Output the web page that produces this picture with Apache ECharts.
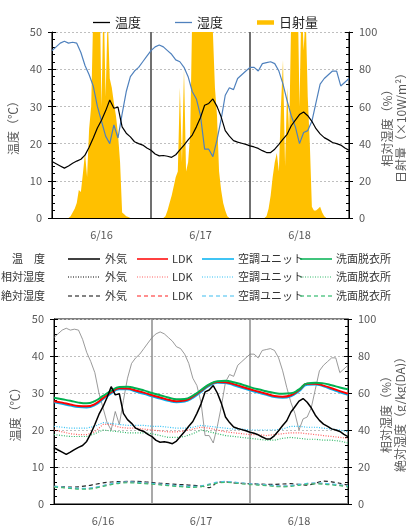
<!DOCTYPE html>
<html><head><meta charset="utf-8">
<script src="https://cdn.jsdelivr.net/npm/echarts@6/dist/echarts.min.js"></script>
<style>html,body{margin:0;padding:0;background:#fff}#c{width:406px;height:526px}</style>
</head><body><div id="c"></div>
<script>
// ---- categories ----
const days = ['6/16', '6/17', '6/18'];
const tempTicks = [0, 10, 20, 30, 40, 50];
const pctTicks = [0, 20, 40, 60, 80, 100];

// ---- outdoor, hourly (h0..h72) ----
const tempOut = [15.2,14.6,14.0,13.4,14.0,14.7,15.3,15.8,16.9,19.0,21.5,24.2,26.3,28.8,31.7,29.5,29.8,24.5,22.8,21.8,20.5,20.0,19.6,18.8,
  18.2,17.2,16.7,16.8,16.6,16.3,17.0,18.3,19.6,21.0,22.3,24.5,27.0,30.3,30.8,32.0,30.0,27.2,23.5,22.0,20.8,20.4,20.1,19.8,
  19.4,19.1,18.7,18.1,17.6,17.6,18.5,19.8,21.2,22.5,24.8,26.3,27.8,28.5,27.5,26.0,24.0,22.6,21.6,21.0,20.3,20.0,19.6,18.8,18.2];
const rhOut = [90,92,94,95,94,94.5,94,89,82,77,71,60,52,44,40,50,43,56,68,76,79,81,84,87,
  90,92,93,92,90,88,85,84,81,76,68,64,55,37,37,33,42,53,66,70,69,75,77,79,
  81,81,79,83,83.5,84,83,79,72,63,55,49,40,46,47,52,62,72,75,77,79,79,71,73,75];
// ---- solar radiation, half-hourly (h0..h72), x10 W/m2 ----
const solar = [0,0,0,0,0,0,0,0,0,
  1,3,5,8,15,14,24,35,22,48,60,110,120,130,130,60,120,65,110,75,70,62,55,45,30,3,2,1,0.5,
  0,0,0,0,0,0,0,0,0,0,
  0,0,0,0,0,0,0,
  1,4,8,12,17,22,25,70,30,80,25,30,45,110,130,140,150,150,150,140,130,120,110,100,70,55,25,15,8,4,1,
  0,0,0,0,0,0,0,0,0,0,
  0,0,0,0,0,0,0,0,
  1,5,12,22,30,35,25,60,85,28,70,45,110,130,140,130,60,120,90,110,65,40,6,4,4,5,6,3,1,0,
  0,0,0,0,0,0,0,0,0,0,0];

// ---- rooms, every 2 hours (h0..h72) ----
const tempLDK  = [27.8,27.4,26.9,26.5,26.4,27.0,28.6,30.2,31.3,31.2,30.7,30.1,29.4,28.8,28.2,27.8,28.0,29.0,30.6,32.2,33.0,32.9,32.4,31.7,31.0,30.4,29.8,29.2,29.0,29.4,30.8,32.5,32.5,32.0,31.3,30.5,29.8];
const tempAC   = [27.5,27.1,26.6,26.2,26.1,26.7,28.3,29.9,31.0,31.0,30.4,29.8,29.1,28.5,27.9,27.5,27.7,28.7,30.3,31.9,32.8,32.7,32.1,31.4,30.7,30.1,29.5,28.9,28.7,29.1,30.5,32.2,32.3,31.8,31.0,30.2,29.5];
const tempWash = [28.7,28.3,27.9,27.4,27.2,27.8,29.2,30.6,31.6,31.7,31.3,30.7,30.0,29.4,28.8,28.3,28.4,29.3,30.8,32.3,33.2,33.3,32.9,32.3,31.6,31.0,30.5,30.0,29.8,29.9,31.0,32.6,32.8,32.6,32.1,31.5,31.0];
const rhLDK  = [40,39,38,37.5,37.5,39,43,43,41.5,41,41,40.5,40,39.5,39,39,39.5,40.5,41.5,41,40,39,38.5,38,37.5,37.5,37,37.5,38,38.5,38.5,38,37.5,37,36.5,36,35.5];
const rhAC   = [42,41.5,41,41,41,42,44,43.5,43,42.5,42.5,42.5,42,42,41.5,41,41,41.5,42.5,42,41.5,41,40.5,40.5,40,40,40,40,40.5,42,42,41.5,41.5,41,40.5,40,39];
const rhWash = [37.5,37,36.5,36.5,36.5,38,40,39.5,39,38.5,38.5,38.5,38,37,36,36,36.5,38,40,39,38,37,36.5,36,35.5,35,34.5,34.5,35.5,36,35.5,35,35,34.5,34.5,34,33];
const ahOut  = [9.6,9.3,9.1,9.3,9.8,10.6,11.4,11.9,12.1,12.2,12.2,12.0,11.6,11.2,10.9,10.6,10.4,10.1,9.8,8.8,11.6,12.0,11.4,11.2,11.0,10.8,10.6,10.6,10.8,11.0,10.6,10.2,11.2,12.4,12.0,11.2,10.2];
const ahLDK  = [9.4,9.0,8.6,8.3,8.3,8.8,9.8,10.8,11.5,11.8,11.6,11.3,11.0,10.6,10.2,9.8,9.5,9.3,9.6,10.6,11.6,12.0,11.7,11.2,10.8,10.5,10.2,9.8,9.6,9.8,10.4,11.0,11.2,11.0,10.6,10.2,9.6];
const ahAC   = [9.6,9.2,8.8,8.5,8.5,9.0,10.0,11.0,11.7,12.0,11.8,11.5,11.2,10.8,10.4,10.0,9.7,9.5,9.8,10.8,11.8,12.2,11.9,11.4,11.0,10.7,10.4,10.0,9.8,10.0,10.6,11.2,11.4,11.2,10.8,10.4,9.8];
const ahWash = [9.2,8.8,8.4,8.0,8.0,8.5,9.5,10.5,11.2,11.5,11.3,11.0,10.7,10.3,9.9,9.5,9.2,9.0,9.3,10.3,11.3,11.7,11.4,10.9,10.5,10.2,9.9,9.5,9.3,9.5,10.1,10.7,10.9,10.7,10.3,9.9,9.3];

const hourly = a => a.map((v, i) => [i, v]);
const half = a => a.map((v, i) => [i / 2, v]);
const two = a => a.map((v, i) => [i * 2, v]);

const FONT = 'Noto Sans CJK JP';
const GRAY = '#595959';
const C_RED = '#FF0000', C_CY = '#00B0F0', C_GR = '#00B050';

function catX(gridIndex, sepColor) {
  return {
    type: 'category', gridIndex, data: days, boundaryGap: true, position: 'bottom',
    axisLine: { show: true, lineStyle: { color: '#000', width: 1 } },
    axisTick: { show: false },
    axisLabel: { color: GRAY, fontSize: 11, fontFamily: FONT, margin: 11 },
    splitLine: { show: true, lineStyle: { color: sepColor, width: 1.5 } }
  };
}
function valX(gridIndex) {
  return { type: 'value', gridIndex, min: 0, max: 72, show: false, splitLine: { show: false } };
}
function yMain(gridIndex, pos, max, interval, name, gap) {
  return {
    type: 'value', gridIndex, position: pos, min: 0, max, interval,
    name, nameLocation: 'middle', nameGap: gap, nameRotate: 90, nameMoveOverlap: false,
    nameTextStyle: { color: GRAY, fontSize: 12, fontFamily: FONT, lineHeight: 14 },
    axisLine: { show: true, lineStyle: { color: '#000', width: 1 } },
    axisTick: { show: true, inside: false, length: 4, lineStyle: { color: '#000' } },
    axisLabel: { color: GRAY, fontSize: 11, fontFamily: FONT, margin: 10 },
    splitLine: { show: pos === 'left', lineStyle: { color: '#BFBFBF', type: [2, 2], width: 1 } }
  };
}
function yMinor(gridIndex, pos, max, interval) {
  return {
    type: 'value', gridIndex, position: pos, min: 0, max, interval, offset: 0,
    axisLine: { show: false }, axisLabel: { show: false }, splitLine: { show: false },
    axisTick: { show: true, inside: true, length: 4, lineStyle: { color: '#000' } },
    minorTick: { show: true, splitNumber: 5, length: 3, lineStyle: { color: '#000' } }
  };
}

function ln(name, xi, yi, data, color, width, type, z, smooth) {
  return {
    name, type: 'line', xAxisIndex: xi, yAxisIndex: yi, data, symbol: 'none', showSymbol: false,
    color, lineStyle: { color, width, type: type || 'solid' }, z: z || 2, smooth: smooth || false,
    animation: false
  };
}

const series = [
  {
    name: '日射量', type: 'line', xAxisIndex: 1, yAxisIndex: 1, data: half(solar), symbol: 'none',
    color: '#FFC000', lineStyle: { width: 0 }, areaStyle: { color: '#FFC000', opacity: 1 }, z: 1, animation: false
  },
  ln('湿度', 1, 1, hourly(rhOut), '#4F81BD', 1.2, 'solid', 3),
  ln('温度', 1, 0, hourly(tempOut), '#000000', 1.2, 'solid', 4),
  // bottom chart
  ln('相対湿度 外気', 3, 3, hourly(rhOut), '#808080', 0.8, 'solid', 2),
  ln('絶対湿度 外気', 3, 3, two(ahOut), '#262626', 1.2, [4, 3], 3, 0.3),
  ln('絶対湿度 LDK', 3, 3, two(ahLDK), '#FF5050', 1.2, [4, 3], 3, 0.3),
  ln('絶対湿度 空調ユニット', 3, 3, two(ahAC), '#4FC6F2', 1.2, [4, 3], 3, 0.3),
  ln('絶対湿度 洗面脱衣所', 3, 3, two(ahWash), '#3CBF74', 1.2, [4, 3], 3, 0.3),
  ln('相対湿度 LDK', 3, 3, two(rhLDK), '#FF6060', 1.2, [1, 1.5], 3),
  ln('相対湿度 空調ユニット', 3, 3, two(rhAC), '#30C0F4', 1.2, [1, 1.5], 3),
  ln('相対湿度 洗面脱衣所', 3, 3, two(rhWash), '#30B868', 1.2, [1, 1.5], 3),
  ln('温度 空調ユニット', 3, 2, two(tempAC), C_CY, 2, 'solid', 4, true),
  ln('温度 LDK', 3, 2, two(tempLDK), C_RED, 2, 'solid', 5, true),
  ln('温度 洗面脱衣所', 3, 2, two(tempWash), C_GR, 2, 'solid', 5, true),
  ln('温度 外気', 3, 2, hourly(tempOut), '#000000', 1.5, 'solid', 6)
];

// middle legend (graphic)
const legRows = [
  { label: '温\u3000度', y: 259, type: 'solid', w: 1.5, cols: ['#000', C_RED, C_CY, C_GR] },
  { label: '相対湿度', y: 277, type: 'dotted', w: 1, cols: ['#000', '#FF6060', '#30C0F4', '#30B868'] },
  { label: '絶対湿度', y: 296, type: [4, 3], w: 1.5, cols: ['#595959', '#FF6B6B', '#7FD4F5', '#5CC98C'] }
];
const legNames = ['外気', 'LDK', '空調ユニット', '洗面脱衣所'];
const lineX = [[68, 100], [137, 168], [202, 234], [300, 332]];
const txtX = [105, 172, 238, 336];
const graphics = [];
legRows.forEach(r => {
  graphics.push({ type: 'text', x: 45, y: r.y, style: { text: r.label, fill: '#333', font: '11px "' + FONT + '"', textAlign: 'right', textVerticalAlign: 'middle' } });
  legNames.forEach((n, i) => {
    graphics.push({ type: 'line', shape: { x1: lineX[i][0], y1: r.y, x2: lineX[i][1], y2: r.y }, style: { stroke: r.cols[i], lineWidth: r.w, lineDash: r.type === 'solid' ? null : (r.type === 'dotted' ? [1, 1.5] : r.type) } });
    graphics.push({ type: 'text', x: txtX[i], y: r.y, style: { text: n, fill: '#333', font: '11px "' + FONT + '"', textAlign: 'left', textVerticalAlign: 'middle' } });
  });
});

const chart = echarts.init(document.getElementById('c'), null, { renderer: 'canvas' });
chart.setOption({
  animation: false,
  backgroundColor: '#fff',
  textStyle: { fontFamily: FONT },
  legend: {
    left: 88, top: 11, itemWidth: 17, itemHeight: 5, itemGap: 34, symbolKeepAspect: true,
    textStyle: { fontSize: 13, color: '#262626', fontFamily: FONT },
    data: [
      { name: '温度', icon: 'path://M0,0H17V1.3H0Z' },
      { name: '湿度', icon: 'path://M0,0H17V1.3H0Z' },
      { name: '日射量', icon: 'path://M0,0H17V4.5H0Z' }
    ]
  },
  grid: [
    { left: 52, right: 57, top: 32, bottom: 308, show: false, containLabel: false, outerBoundsMode: 'none' },
    { left: 54, right: 58, top: 319, bottom: 22, show: true, borderColor: '#000', borderWidth: 1, containLabel: false, outerBoundsMode: 'none' }
  ],
  xAxis: [catX(0, '#404040'), valX(0), catX(1, '#8C8C8C'), valX(1)],
  yAxis: [
    yMain(0, 'left', 50, 10, '温度（℃）', 32),
    yMain(0, 'right', 100, 20, '相対湿度（%）\n日射量（×10W/m²）', 31),
    yMain(1, 'left', 50, 10, '温度（℃）', 32),
    yMain(1, 'right', 100, 20, '相対湿度（%）\n絶対湿度（g/kg(DA)）', 31),
    yMinor(0, 'left', 50, 10), yMinor(0, 'right', 100, 20),
    yMinor(1, 'left', 50, 10), yMinor(1, 'right', 100, 20)
  ],
  series,
  graphic: graphics
});
</script></body></html>
